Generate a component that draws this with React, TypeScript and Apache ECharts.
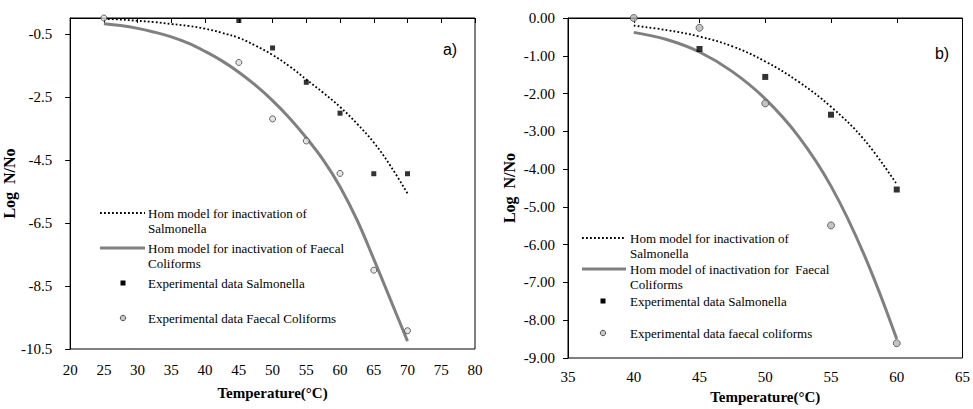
import React, { useEffect, useRef } from "react";
import * as echarts from "echarts";

// ---------- Panel a) ----------
const aExpTempSalmonella = [45, 50, 55, 60, 65, 70];
const aExpSalmonella = [-0.08, -0.95, -2.04, -3.02, -4.94, -4.94];
const aExpTempFaecal = [25, 45, 50, 55, 60, 65, 70];
const aExpFaecal = [0.0, -1.41, -3.2, -3.9, -4.93, -8.0, -9.92];
const aModelTemp = [25, 27.5, 30, 32.5, 35, 37.5, 40, 42.5, 45, 47.5, 50, 52.5, 55, 57.5, 60, 62.5, 65, 67.5, 70];
const aModelSalmonella = [-0.03, -0.05, -0.09, -0.13, -0.19, -0.25, -0.34, -0.47, -0.63, -0.88, -1.17, -1.53, -1.95, -2.37, -2.82, -3.35, -3.95, -4.7, -5.57];
const aModelFaecal = [-0.18, -0.24, -0.33, -0.45, -0.6, -0.8, -1.06, -1.36, -1.72, -2.14, -2.62, -3.17, -3.8, -4.5, -5.35, -6.4, -7.65, -8.95, -10.25];
const aYTicks = [-10.5, -8.5, -6.5, -4.5, -2.5, -0.5];

// ---------- Panel b) ----------
const bExpTempSalmonella = [45, 50, 55, 60];
const bExpSalmonella = [-0.82, -1.56, -2.56, -4.54];
const bExpTempFaecal = [40, 45, 50, 55, 60];
const bExpFaecal = [0.0, -0.26, -2.26, -5.49, -8.61];
const bModelTemp = [40, 42.5, 45, 47.5, 50, 52.5, 55, 57.5, 60];
const bModelSalmonella = [-0.2, -0.32, -0.49, -0.75, -1.15, -1.68, -2.35, -3.21, -4.4];
const bModelFaecal = [-0.38, -0.57, -0.9, -1.42, -2.14, -3.12, -4.45, -6.25, -8.5];

const legendA = [
  "Hom model for inactivation of\nSalmonella",
  "Hom model for inactivation of Faecal\nColiforms",
  "Experimental data Salmonella",
  "Experimental data Faecal Coliforms",
];
const legendB = [
  "Hom model for inactivation of\nSalmonella",
  "Hom model of inactivation for  Faecal\nColiforms",
  "Experimental data Salmonella",
  "Experimental data faecal coliforms",
];

const SERIF = "Liberation Serif";
const GREY = "#808080";
const DOT = [1.8, 2.2];

const zip = (xs: number[], ys: number[]) => xs.map((x, i) => [x, ys[i]]);

function legendGraphics(
  lineX1: number,
  lineX2: number,
  markerX: number,
  textX: number,
  ys: number[],
  texts: string[]
) {
  const font = { fontFamily: SERIF, fontSize: 13, fill: "#000", lineHeight: 15 };
  return [
    {
      type: "line",
      shape: { x1: lineX1, y1: ys[0], x2: lineX2, y2: ys[0] },
      style: { stroke: "#000", lineWidth: 1.8, lineDash: DOT },
    },
    { type: "text", x: textX, y: ys[0] - 7.5, style: { ...font, text: texts[0], verticalAlign: "top" } },
    {
      type: "line",
      shape: { x1: lineX1, y1: ys[1], x2: lineX2, y2: ys[1] },
      style: { stroke: GREY, lineWidth: 3 },
    },
    { type: "text", x: textX, y: ys[1] - 7.5, style: { ...font, text: texts[1], verticalAlign: "top" } },
    {
      type: "rect",
      shape: { x: markerX - 2.5, y: ys[2] - 2.5, width: 5, height: 5 },
      style: { fill: "#000" },
    },
    { type: "text", x: textX, y: ys[2] - 7.5, style: { ...font, text: texts[2], verticalAlign: "top" } },
    {
      type: "circle",
      shape: { cx: markerX, cy: ys[3], r: 2.7 },
      style: { fill: "#c8c8c8", stroke: "#505050", lineWidth: 1 },
    },
    { type: "text", x: textX, y: ys[3] - 7.5, style: { ...font, text: texts[3], verticalAlign: "top" } },
  ];
}

export default function App() {
  const ref = useRef<HTMLDivElement>(null);

  useEffect(() => {
    if (!ref.current) return;
    const chart = echarts.init(ref.current, null, { renderer: "svg" });

    const labelStyle = { fontFamily: SERIF, fontSize: 15, color: "#000" };
    const nameStyle = { fontFamily: SERIF, fontSize: 15, fontWeight: "bold", color: "#000" };
    const yNameStyle = { fontFamily: SERIF, fontSize: 16, fontWeight: "bold", color: "#000" };

    const bottomX = (gridIndex: number, min: number, max: number, margin: number, gap: number) => ({
      type: "value",
      gridIndex,
      position: "bottom",
      min,
      max,
      interval: 5,
      name: "Temperature(°C)",
      nameLocation: "middle",
      nameGap: gap,
      nameTextStyle: nameStyle,
      axisLine: { show: false },
      axisTick: { show: false },
      splitLine: { show: false },
      axisLabel: { ...labelStyle, margin },
    });
    const topX = (gridIndex: number, min: number, max: number) => ({
      type: "value",
      gridIndex,
      position: "top",
      min,
      max,
      interval: 5,
      axisLine: { show: true, lineStyle: { color: "#000", width: 1 } },
      axisTick: { show: true, inside: true, length: 5, lineStyle: { color: "#000" } },
      axisLabel: { show: false },
      splitLine: { show: false },
    });

    const modelLine = (xi: number, yi: number, data: number[][], dotted: boolean) => ({
      type: "line",
      xAxisIndex: xi,
      yAxisIndex: yi,
      data,
      smooth: 0.4,
      showSymbol: false,
      lineStyle: dotted
        ? { color: "#000", width: 1.8, type: DOT }
        : { color: GREY, width: 3 },
      z: dotted ? 3 : 2,
    });

    const option: any = {
      animation: false,
      backgroundColor: "#fff",
      textStyle: { fontFamily: SERIF },
      grid: [
        { left: 70, top: 18, width: 405, height: 331, show: true, borderColor: "#000", borderWidth: 1 },
        { left: 568, top: 18, width: 397, height: 343, show: true, borderColor: "#000", borderWidth: 1 },
      ],
      xAxis: [
        bottomX(0, 20, 80, 13, 36),
        topX(0, 20, 80),
        bottomX(1, 35, 65, 11, 31),
        topX(1, 35, 65),
      ],
      yAxis: [
        {
          type: "value",
          gridIndex: 0,
          min: -10.5,
          max: 0,
          name: "Log  N/No",
          nameLocation: "middle",
          nameGap: 40,
          nameTextStyle: yNameStyle,
          axisLine: { show: true, lineStyle: { color: "#000" } },
          axisTick: { show: true, length: 5, lineStyle: { color: "#000" }, customValues: aYTicks },
          axisLabel: { ...labelStyle, margin: 18, customValues: aYTicks, formatter: (v: number) => String(v) },
          splitLine: { show: false },
        },
        {
          type: "value",
          gridIndex: 1,
          min: -9,
          max: 0,
          interval: 1,
          name: "Log  N/No",
          nameLocation: "middle",
          nameGap: 51,
          nameTextStyle: yNameStyle,
          axisLine: { show: true, lineStyle: { color: "#000" } },
          axisTick: { show: true, length: 5, lineStyle: { color: "#000" } },
          axisLabel: { ...labelStyle, margin: 13, formatter: (v: number) => v.toFixed(2) },
          splitLine: { show: false },
        },
      ],
      series: [
        modelLine(0, 0, zip(aModelTemp, aModelFaecal), false),
        modelLine(0, 0, zip(aModelTemp, aModelSalmonella), true),
        {
          type: "scatter",
          xAxisIndex: 0,
          yAxisIndex: 0,
          data: zip(aExpTempSalmonella, aExpSalmonella),
          symbol: "rect",
          symbolSize: 5,
          itemStyle: { color: "#000" },
          z: 5,
        },
        {
          type: "scatter",
          xAxisIndex: 0,
          yAxisIndex: 0,
          data: zip(aExpTempFaecal, aExpFaecal),
          symbol: "circle",
          symbolSize: 6,
          itemStyle: { color: "#e0e0e0", borderColor: "#404040", borderWidth: 1 },
          z: 5,
        },
        modelLine(2, 1, zip(bModelTemp, bModelFaecal), false),
        modelLine(2, 1, zip(bModelTemp, bModelSalmonella), true),
        {
          type: "scatter",
          xAxisIndex: 2,
          yAxisIndex: 1,
          data: zip(bExpTempSalmonella, bExpSalmonella),
          symbol: "rect",
          symbolSize: 6,
          itemStyle: { color: "#000" },
          z: 5,
        },
        {
          type: "scatter",
          xAxisIndex: 2,
          yAxisIndex: 1,
          data: zip(bExpTempFaecal, bExpFaecal),
          symbol: "circle",
          symbolSize: 7,
          itemStyle: { color: "#b4b4b4", borderColor: "#505050", borderWidth: 1 },
          z: 5,
        },
      ],
      graphic: [
        ...legendGraphics(100, 145, 123, 148, [213, 248, 283, 318], legendA),
        ...legendGraphics(582, 626, 603, 630, [238, 269, 301, 333], legendB),
        {
          type: "text",
          x: 450,
          y: 49,
          style: {
            text: "a)",
            fontFamily: "Liberation Sans",
            fontSize: 16,
            fill: "#000",
            align: "center",
            verticalAlign: "middle",
          },
        },
        {
          type: "text",
          x: 942,
          y: 53,
          style: {
            text: "b)",
            fontFamily: "Liberation Sans",
            fontSize: 16,
            fill: "#000",
            align: "center",
            verticalAlign: "middle",
          },
        },
      ],
    };

    chart.setOption(option);
    return () => chart.dispose();
  }, []);

  return (
    <div
      ref={ref}
      style={{ position: "fixed", left: 0, top: 0, width: 973, height: 409, background: "#fff" }}
    />
  );
}
